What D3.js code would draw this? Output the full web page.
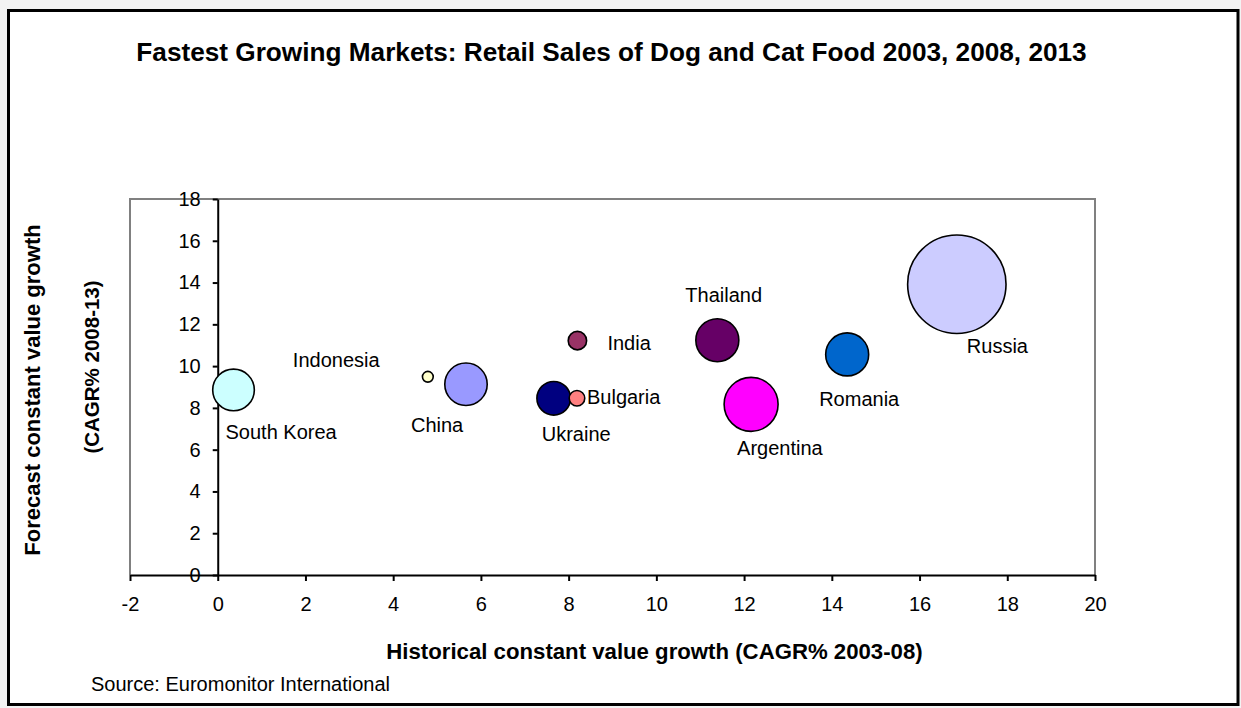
<!DOCTYPE html>
<html>
<head>
<meta charset="utf-8">
<script src="https://cdn.jsdelivr.net/npm/d3@7"></script>
<style>
  html, body { margin: 0; padding: 0; background: #f3f3f3; }
  svg { display: block; }
  text { font-family: Arial, "Liberation Sans", Helvetica, sans-serif; fill: #000; }
</style>
</head>
<body>
<svg id="chart" width="1241" height="708"></svg>
<script>
// Markets (one bubble each)
const countries = ["South Korea", "Indonesia", "China", "Ukraine", "Bulgaria",
                   "India", "Thailand", "Argentina", "Romania", "Russia"];
// Historical constant value growth, CAGR% 2003-08
const historicalGrowth = [0.36, 4.79, 5.66, 7.66, 8.19, 8.20, 11.39, 12.16, 14.35, 16.85];
// Forecast constant value growth, CAGR% 2008-13
const forecastGrowth = [8.86, 9.49, 9.13, 8.46, 8.46, 11.22, 11.24, 8.17, 10.56, 13.92];
// Relative market size (bubble area)
const marketSize = [179, 12, 186, 117, 25, 35, 191, 301, 191, 1000];

const xTicks = [-2, 0, 2, 4, 6, 8, 10, 12, 14, 16, 18, 20];
const yTicks = [0, 2, 4, 6, 8, 10, 12, 14, 16, 18];

// Bubble fills, in market order
const fills = ["#CCFFFF", "#FFFFCC", "#9999FF", "#000080", "#FF8080",
               "#993366", "#660066", "#FF00FF", "#0066CC", "#CCCCFF"];

// Label placement relative to bubble centre (px): left edge, vertical middle
const labelOffsets = {
  "South Korea": [-8, 42], "Indonesia": [-135, -17], "China": [-55, 41],
  "Ukraine": [-12, 36], "Bulgaria": [10, -1], "India": [30, 2],
  "Thailand": [-32, -45], "Argentina": [-14, 44], "Romania": [-28, 45],
  "Russia": [10, 62]
};

const svg = d3.select("#chart");

// Outer chart frame
svg.append("rect")
  .attr("x", 8.5).attr("y", 10.5).attr("width", 1229.5).attr("height", 694)
  .attr("fill", "#fff").attr("stroke", "#000").attr("stroke-width", 3);

const plot = { left: 130, right: 1095, top: 199, bottom: 575 };
const x = d3.scaleLinear().domain([-2, 20]).range([plot.left, plot.right]);
const y = d3.scaleLinear().domain([0, 18]).range([plot.bottom, plot.top]);
const r = d3.scaleSqrt().domain([0, d3.max(marketSize)]).range([0, 49.2]);

// Plot area border (grey)
svg.append("path")
  .attr("d", `M${plot.left},${plot.bottom}V${plot.top}H${plot.right}V${plot.bottom}`)
  .attr("fill", "none").attr("stroke", "#808080").attr("stroke-width", 2);

// Plain hyphen-minus for negative tick labels
const plainNumber = d => String(d);

// X axis along y = 0
const xAxis = svg.append("g")
  .attr("transform", `translate(0,${y(0)})`)
  .call(d3.axisBottom(x).tickValues(xTicks).tickSize(6).tickSizeOuter(0).tickPadding(16)
          .tickFormat(plainNumber));

// Y axis along x = 0
const yAxis = svg.append("g")
  .attr("transform", `translate(${x(0)},0)`)
  .call(d3.axisLeft(y).tickValues(yTicks).tickSize(5).tickSizeOuter(0).tickPadding(12)
          .tickFormat(plainNumber));

[xAxis, yAxis].forEach(g => {
  g.attr("font-family", null);
  g.select(".domain").attr("stroke", "#000").attr("stroke-width", 2);
  g.selectAll(".tick line").attr("stroke", "#000").attr("stroke-width", 2);
  g.selectAll(".tick text").attr("font-size", 20).attr("fill", "#000");
});

// Bubbles: draw larger first so small ones stay visible
const data = countries.map((c, i) => ({
  name: c, hx: historicalGrowth[i], fy: forecastGrowth[i], size: marketSize[i], fill: fills[i]
}));
const order = data.slice().sort((a, b) => b.size - a.size);

svg.append("g").selectAll("circle").data(order).join("circle")
  .attr("cx", d => x(d.hx)).attr("cy", d => y(d.fy)).attr("r", d => r(d.size))
  .attr("fill", d => d.fill).attr("stroke", "#000").attr("stroke-width", 1.6);

svg.append("g").selectAll("text").data(data).join("text")
  .attr("x", d => x(d.hx) + labelOffsets[d.name][0])
  .attr("y", d => y(d.fy) + labelOffsets[d.name][1])
  .attr("dy", "0.35em").attr("font-size", 20)
  .text(d => d.name);

// Titles
svg.append("text").attr("x", 611.5).attr("y", 52).attr("dy", "0.35em")
  .attr("text-anchor", "middle").attr("font-size", 26.2).attr("font-weight", "bold")
  .text("Fastest Growing Markets: Retail Sales of Dog and Cat Food 2003, 2008, 2013");

svg.append("text").attr("x", 654.5).attr("y", 651).attr("dy", "0.35em")
  .attr("text-anchor", "middle").attr("font-size", 22.2).attr("font-weight", "bold")
  .text("Historical constant value growth (CAGR% 2003-08)");

svg.append("text").attr("transform", "translate(32,390) rotate(-90)").attr("dy", "0.35em")
  .attr("text-anchor", "middle").attr("font-size", 22).attr("font-weight", "bold")
  .text("Forecast constant value growth");

svg.append("text").attr("transform", "translate(92,367) rotate(-90)").attr("dy", "0.35em")
  .attr("text-anchor", "middle").attr("font-size", 20.5).attr("font-weight", "bold")
  .text("(CAGR% 2008-13)");

svg.append("text").attr("x", 91).attr("y", 684).attr("dy", "0.35em")
  .attr("font-size", 20)
  .text("Source: Euromonitor International");
</script>
</body>
</html>
